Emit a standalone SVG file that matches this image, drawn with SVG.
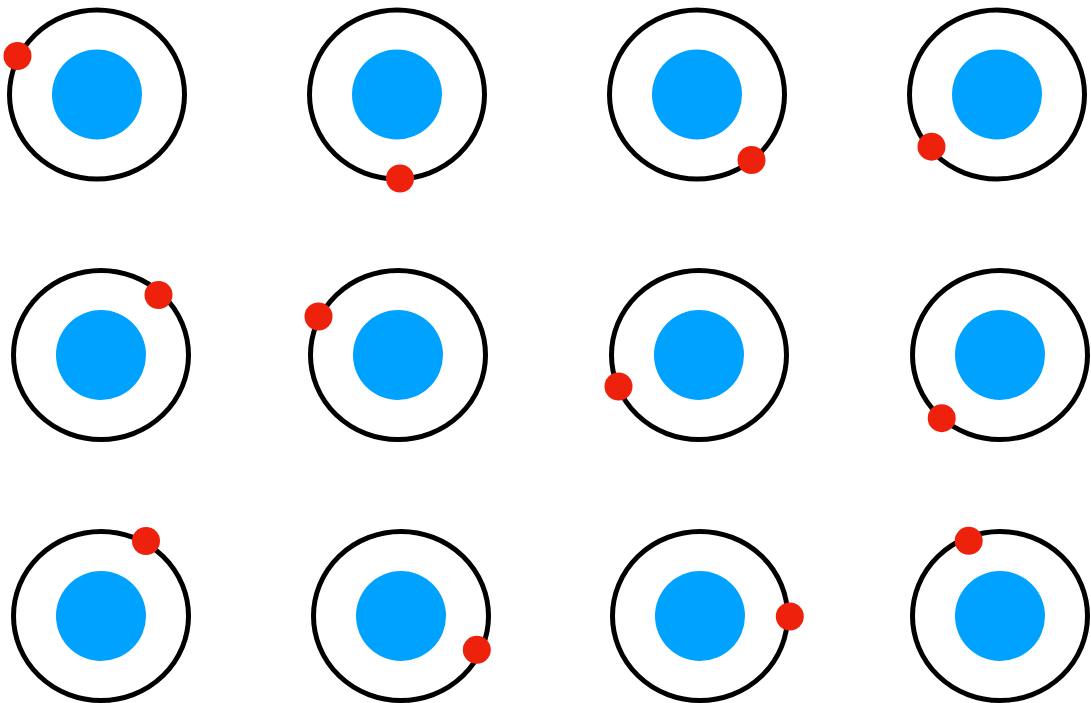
<svg xmlns="http://www.w3.org/2000/svg" width="1091" height="703" viewBox="0 0 1091 703">
<style>
.orbit{fill:none;stroke:#000;stroke-width:5}
.nucleus{fill:#00a2ff}
.electron{fill:#ee220c}
</style>
<defs>
<g id="atom">
<ellipse class="orbit" cx="0" cy="0" rx="87.5" ry="84.5"/>
<circle class="nucleus" cx="0" cy="0" r="45"/>
</g>
</defs>
<rect width="1091" height="703" fill="#fff"/>
<g id="a1"><use href="#atom" x="97" y="94.5"/><circle class="electron" cx="17.5" cy="56" r="14"/></g>
<g id="a2"><use href="#atom" x="397" y="94.5"/><circle class="electron" cx="400" cy="178.5" r="14"/></g>
<g id="a3"><use href="#atom" x="697" y="94.5"/><circle class="electron" cx="751.5" cy="160" r="14"/></g>
<g id="a4"><use href="#atom" x="997" y="94.5"/><circle class="electron" cx="931.5" cy="146.7" r="14"/></g>
<g id="a5"><use href="#atom" x="101" y="355"/><circle class="electron" cx="158.5" cy="295" r="14"/></g>
<g id="a6"><use href="#atom" x="398" y="355"/><circle class="electron" cx="318.5" cy="316.5" r="14"/></g>
<g id="a7"><use href="#atom" x="699" y="355"/><circle class="electron" cx="618.5" cy="386.5" r="14"/></g>
<g id="a8"><use href="#atom" x="1000" y="355"/><circle class="electron" cx="941.7" cy="418.2" r="14"/></g>
<g id="a9"><use href="#atom" x="101" y="616"/><circle class="electron" cx="146" cy="541" r="14"/></g>
<g id="a10"><use href="#atom" x="401" y="616"/><circle class="electron" cx="476.8" cy="649.8" r="14"/></g>
<g id="a11"><use href="#atom" x="700" y="616"/><circle class="electron" cx="789.8" cy="616.5" r="14"/></g>
<g id="a12"><use href="#atom" x="1000" y="616"/><circle class="electron" cx="968.7" cy="540.8" r="14"/></g>
</svg>
